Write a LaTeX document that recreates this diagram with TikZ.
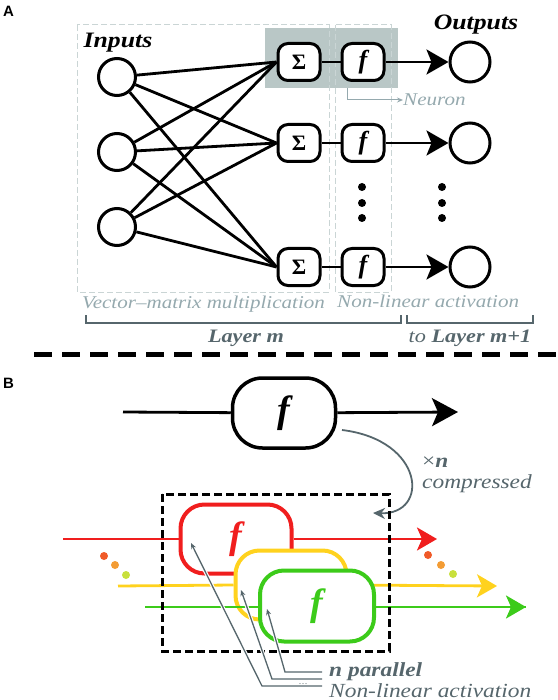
\documentclass[tikz,border=0pt]{standalone}
\usepackage{graphicx}
\usepackage{fontspec}
\setmainfont{Liberation Serif}
\newfontfamily\panelfont{Liberation Sans}
\usetikzlibrary{arrows.meta}
\definecolor{neuronbg}{HTML}{B9C7C6}
\definecolor{paleline}{HTML}{CAD5D5}
\definecolor{palelabel}{HTML}{95A9AE}
\definecolor{slate}{HTML}{56666C}
\definecolor{fred}{HTML}{F01E1E}
\definecolor{fyellow}{HTML}{FFD21E}
\definecolor{fgreen}{HTML}{3CCB1A}
\definecolor{dotred}{HTML}{F05A28}
\definecolor{dotorange}{HTML}{F39C34}
\definecolor{dotlime}{HTML}{C8E03C}
\newcommand{\wide}[1]{\scalebox{1.17}[1]{#1}}

\begin{document}
\begin{tikzpicture}[x=1pt,y=-1pt,
    every node/.style={inner sep=0pt,font=\fontsize{18}{20}\selectfont},
    unit/.style={circle,draw,line width=3pt,minimum size=37pt},
    op/.style={draw,fill=white,line width=3pt,rounded corners=10pt,
      minimum width=42pt,minimum height=37pt,font=\fontsize{22}{22}\selectfont\bfseries},
    wire/.style={line width=2.8pt},
    big/.style={-{Stealth[length=22pt,width=25pt,inset=5pt]}},
    pale/.style={draw=paleline,line width=1pt,dash pattern=on 6pt off 3pt},
    note/.style={text=palelabel,font=\fontsize{18}{20}\selectfont\itshape},
    cbox/.style={draw=#1,text=#1,fill=white,line width=4pt,rounded corners=24pt,
      minimum width=111pt,minimum height=69pt,font=\fontsize{38}{38}\selectfont\bfseries\itshape},
    cwire/.style={#1,line width=2.8pt},
    ptr/.style={slate,line width=1.3pt,preaction={draw=white,line width=3.5pt},
      -{Stealth[length=6pt,width=5pt]}}
  ]
  \useasboundingbox (0,0) rectangle (557,700);

  % A: one layer of the network
  \fill[neuronbg] (265,28) rectangle (398,88);
  \draw[pale] (77,25) rectangle (329,292);
  \draw[pale] (335,25) rectangle (391,292);
  \node[font=\panelfont\bfseries\fontsize{15}{15}\selectfont,anchor=base west] (pa) at (3,17) {A};
  \node[font=\fontsize{22}{24}\selectfont\bfseries\itshape,anchor=base] (inputs) at (118,48) {\wide{Inputs}};
  \node[font=\fontsize{22}{24}\selectfont\bfseries\itshape,anchor=base] (outputs) at (476,30) {\wide{Outputs}};
  \foreach \y [count=\i] in {77,152,227}
    \node[unit] (in\i) at (117,\y) {};
  \foreach \y [count=\i] in {62,143,267} {
    \node[op] (s\i) at (299,\y) {Σ};
    \node[op,font=\fontsize{26}{26}\selectfont\bfseries\itshape] (f\i) at (363,\y) {f};
    \node[unit,minimum size=40pt] (o\i) at (470,\y) {};
    \draw[wire] (s\i) -- (f\i);
    \draw[wire,big] (f\i) -- (o\i);
  }
  \foreach \i in {1,2,3}
    \foreach \j in {1,2,3}
      \draw[wire] (in\i) -- (s\j.west);
  \foreach \x in {362,442}
    \foreach \y in {187,203,218}
      \fill (\x,\y) circle (4pt);
  \node[note,anchor=west] (neuron) at (403,100) {\wide{Neuron}};
  \coordinate (nfoot) at (347,88);
  \draw[palelabel,line width=1pt,-{Stealth[length=6pt,width=5pt]}] (nfoot) |- (neuron.west);
  \node[note,anchor=base west] (vm) at (82,308) {\wide{Vector–matrix multiplication}};
  \node[note,anchor=base west] (nl) at (337,307) {\wide{Non-linear activation}};
  \draw[slate,line width=1.8pt] (86,315) |- (401,323) -- (401,315);
  \draw[slate,line width=1.8pt] (407,315) |- (533,323) -- (533,315);
  \node[text=slate,anchor=base,font=\fontsize{19}{20}\selectfont\bfseries\itshape] (layer) at (246,342) {\wide{Layer m}};
  \node[text=slate,anchor=base,font=\fontsize{19}{20}\selectfont\itshape] (next) at (470,342) {\wide{to \textbf{Layer m+1}}};
  \draw[line width=5pt,dash pattern=on 18pt off 10pt] (34,354) -- (557,354);

  % B: n parallel activations
  \node[font=\panelfont\bfseries\fontsize{15}{15}\selectfont,anchor=base west] (pb) at (3,388) {B};
  \node[draw,fill=white,line width=3.5pt,rounded corners=30pt,minimum width=103pt,minimum height=70pt,
    font=\fontsize{38}{38}\selectfont\bfseries\itshape] (fone) at (284,413) {f};
  \coordinate (lin) at (123,412);
  \coordinate (lout) at (458,412);
  \draw[wire] (lin) -- (fone);
  \draw[wire,-{Stealth[length=26pt,width=28pt,inset=6pt]}] (fone) -- (lout);
  \coordinate (cfrom) at (342,430);
  \coordinate (cto) at (373,513);
  \draw[slate,line width=1.8pt,-{Stealth[length=12pt,width=11pt]}] (cfrom) .. controls (425,440) and (430,515) .. (cto);
  \node[text=slate,anchor=base west,font=\fontsize{20}{20}\selectfont] (times) at (422,467) {\wide{×\textbf{\textit{n}}}};
  \node[text=slate,anchor=base west,font=\fontsize{20}{20}\selectfont\itshape] (comp) at (422,488) {\wide{compressed}};

  \node[cbox=fred] (fr) at (236,539) {f};
  \coordinate (rin) at (63,539);
  \coordinate (rout) at (437,539);
  \draw[cwire=fred] (rin) -- (fr.west);
  \draw[cwire=fred,-{Stealth[length=20pt,width=23pt,inset=5pt]}] (fr.east) -- (rout);
  \node[cbox=fyellow] (fy) at (291,585) {};
  \coordinate (yin) at (118,586);
  \coordinate (yout) at (497,586);
  \draw[cwire=fyellow] (yin) -- (fy.west);
  \draw[cwire=fyellow,-{Stealth[length=20pt,width=23pt,inset=5pt]}] (fy.east) -- (yout);
  \coordinate (gin) at (145,607);
  \coordinate (gout) at (526,607);
  \draw[cwire=fgreen] (gin) -- (gout.west);
  \draw[cwire=fgreen,-{Stealth[length=20pt,width=23pt,inset=5pt]}] (317,607) -- (gout);
  \node[cbox=fgreen,minimum width=114pt,minimum height=71pt] (fg) at (317,606) {f};
  \foreach \c/\x/\y in {dotred/104/556,dotorange/115/565,dotlime/126/575,
                        dotred/428/555,dotorange/441/565,dotlime/453/574}
    \fill[\c] (\x,\y) circle (4pt);
  \draw[line width=3pt,dash pattern=on 8pt off 4pt] (162,494) rectangle (389,651);

  % pointers to the labels
  \coordinate (pr) at (191,543);
  \coordinate (py) at (241,590);
  \coordinate (pg) at (267,609);
  \draw[ptr] (322,686) -- (262,686) -- (pr);
  \draw[ptr] (322,679) -- (272,679) -- (py);
  \draw[ptr] (322,672) -- (285,672) -- (pg);
  \node[text=slate,anchor=base west,font=\fontsize{20}{20}\selectfont\bfseries\itshape] (npar) at (329,676) {\wide{n parallel}};
  \node[text=slate,anchor=base,font=\fontsize{9}{9}\selectfont] (ell) at (303,684) {\dots};
  \node[text=slate,anchor=base west,font=\fontsize{20}{20}\selectfont\itshape] (nlin) at (329,697) {\wide{Non-linear activation}};
\end{tikzpicture}
\end{document}
